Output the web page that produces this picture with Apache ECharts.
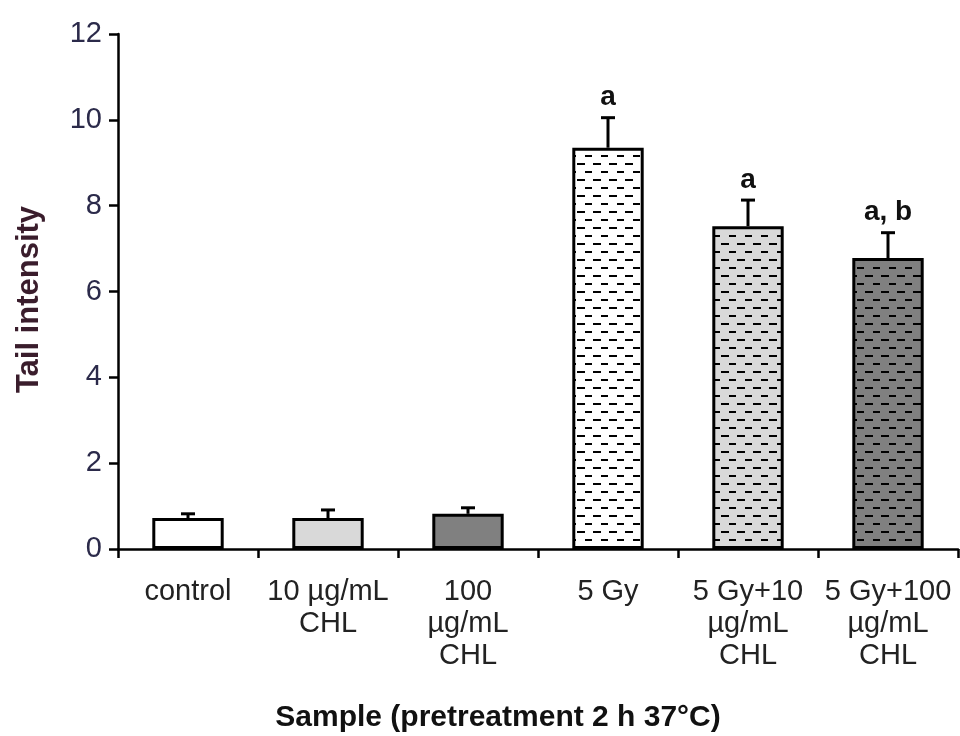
<!DOCTYPE html>
<html>
<head>
<meta charset="utf-8">
<script src="https://cdn.jsdelivr.net/npm/echarts@6/dist/echarts.min.js"></script>
<style>
  html, body { margin: 0; padding: 0; background: #fff; }
  #chart { width: 960px; height: 736px; }
</style>
</head>
<body>
<div id="chart"></div>
<script>
// Comet assay tail intensity by treatment group
const categories = ['control', '10 µg/mL\nCHL', '100\nµg/mL\nCHL', '5 Gy', '5 Gy+10\nµg/mL\nCHL', '5 Gy+100\nµg/mL\nCHL'];
const means = [0.72, 0.72, 0.82, 9.35, 7.52, 6.78];
const errors = [0.1, 0.19, 0.14, 0.7, 0.61, 0.59];
const sigLabels = ['', '', '', 'a', 'a', 'a, b'];
const yTicks = [0, 2, 4, 6, 8, 10, 12];

const baseFills = ['#ffffff', '#d9d9d9', '#808080', '#ffffff', '#d9d9d9', '#808080'];
const dashed = [false, false, false, true, true, true];

const FONT = '"Liberation Sans", Arial, sans-serif';

// Dashed hatch fill: short horizontal dashes, staggered on alternate rows
function dashPattern(bg) {
  const c = document.createElement('canvas');
  c.width = 16; c.height = 16;
  const g = c.getContext('2d');
  g.fillStyle = bg;
  g.fillRect(0, 0, 16, 16);
  g.fillStyle = '#000';
  g.fillRect(1, 3, 8, 2);
  g.fillRect(9, 11, 7, 2);
  return { image: c, repeat: 'repeat' };
}

const barData = means.map((v, i) => ({
  value: v,
  itemStyle: { color: dashed[i] ? dashPattern(baseFills[i]) : baseFills[i] }
}));

const errData = means.map((v, i) => [i, v, v + errors[i]]);

const chart = echarts.init(document.getElementById('chart'));
chart.setOption({
  animation: false,
  grid: { left: 118, right: 2, top: 34, bottom: 187, outerBoundsMode: 'none', containLabel: false },
  xAxis: {
    type: 'category',
    data: categories,
    axisLine: { lineStyle: { color: '#000', width: 2.5 } },
    axisTick: { show: true, alignWithLabel: false, length: 9, lineStyle: { color: '#000', width: 2.5 } },
    axisLabel: {
      interval: 0,
      margin: 27,
      fontFamily: FONT,
      fontSize: 29,
      lineHeight: 32,
      color: '#222'
    },
    name: 'Sample (pretreatment 2 h 37°C)',
    nameLocation: 'middle',
    nameGap: 154,
    nameTextStyle: {
      fontFamily: FONT,
      fontWeight: 'bold',
      fontSize: 30,
      color: '#111',
      padding: [0, 80, 0, 0]
    }
  },
  yAxis: {
    type: 'value',
    min: yTicks[0],
    max: yTicks[yTicks.length - 1],
    interval: 2,
    splitLine: { show: false },
    axisLine: { show: true, lineStyle: { color: '#000', width: 2.5 } },
    axisTick: { show: true, length: 9, lineStyle: { color: '#000', width: 2.5 } },
    axisLabel: {
      margin: 16,
      fontFamily: FONT,
      fontSize: 29,
      color: '#2b2a4a'
    },
    name: 'Tail intensity',
    nameLocation: 'middle',
    nameGap: 73,
    nameTextStyle: {
      fontFamily: FONT,
      fontWeight: 'bold',
      fontSize: 31,
      color: '#3a1d2c',
      padding: [0, 16, 0, 0]
    }
  },
  series: [
    {
      type: 'bar',
      data: barData,
      barWidth: '51%',
      itemStyle: { borderColor: '#000', borderWidth: 3 },
      z: 2
    },
    {
      type: 'custom',
      z: 3,
      data: errData,
      renderItem: function (params, api) {
        const base = api.coord([api.value(0), api.value(1)]);
        const top = api.coord([api.value(0), api.value(2)]);
        const x = base[0];
        const label = sigLabels[params.dataIndex];
        const children = [
          { type: 'line', shape: { x1: x, y1: base[1], x2: x, y2: top[1] }, style: { stroke: '#000', lineWidth: 3 } },
          { type: 'line', shape: { x1: x - 7, y1: top[1], x2: x + 7, y2: top[1] }, style: { stroke: '#000', lineWidth: 3 } }
        ];
        if (label) {
          children.push({
            type: 'text',
            style: {
              text: label,
              x: x,
              y: top[1] - 6,
              align: 'center',
              verticalAlign: 'bottom',
              font: 'bold 28px ' + FONT,
              fill: '#111'
            }
          });
        }
        return { type: 'group', children: children };
      }
    }
  ]
});
</script>
</body>
</html>
